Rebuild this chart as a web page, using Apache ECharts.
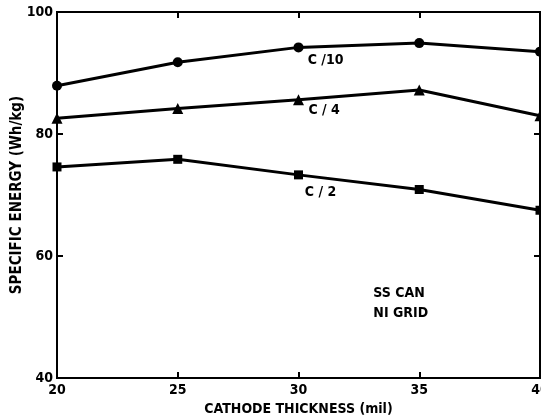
<!DOCTYPE html>
<html>
<head>
<meta charset="utf-8">
<script src="https://cdn.jsdelivr.net/npm/echarts@6/dist/echarts.min.js"></script>
<style>html,body{margin:0;padding:0;background:#fff}#c{width:541px;height:416px}</style>
</head>
<body>
<div id="c"></div>
<script>
var thickness = [20, 25, 30, 35, 40];
var c10 = [87.9, 91.75, 94.2, 94.9, 93.5];
var c4 = [82.6, 84.2, 85.6, 87.2, 83.0];
var c2 = [74.6, 75.85, 73.3, 70.9, 67.5];
var seriesNames = ['C /10', 'C / 4', 'C / 2'];
var xTicks = [20, 25, 30, 35, 40];
var yTicks = [40, 60, 80, 100];
var labelPos = [[31.12, 92.1], [31.06, 83.9], [30.91, 70.5]];
var notePos = [33.1, 52.3];
var noteText = 'SS CAN\nNI GRID';
var xTitle = 'CATHODE THICKNESS (mil)';
var yTitle = 'SPECIFIC ENERGY (Wh/kg)';

var FONT = 'DejaVu Sans Condensed';
function pairs(v){ return thickness.map(function(x,i){ return [x, v[i]]; }); }
var chart = echarts.init(document.getElementById('c'));
var symbols = ['circle', 'triangle', 'rect'];
var sizes = [10, 11, 9];
var vals = [c10, c4, c2];
var series = vals.map(function(v, k){
  return {
    type: 'line', name: seriesNames[k], data: pairs(v),
    symbol: symbols[k], symbolSize: sizes[k],
    lineStyle: {color: '#000', width: 3},
    itemStyle: {color: '#000'},
    clip: false, animation: false,
    markPoint: {
      symbol: 'circle', symbolSize: 0,
      data: [{coord: labelPos[k], value: seriesNames[k]}],
      label: {show: true, formatter: seriesNames[k], color: '#000', fontFamily: FONT, fontWeight: 'bold', fontSize: 14, position: 'inside'}
    }
  };
});
series.push({
  type: 'scatter', data: [], silent: true,
  markPoint: {
    symbol: 'circle', symbolSize: 0,
    data: [{coord: notePos, value: 1}],
    label: {show: true, formatter: noteText, color: '#000', fontFamily: FONT, fontWeight: 'bold', fontSize: 14, lineHeight: 20, align: 'left', position: 'inside'}
  }
});
var axisLbl = {color: '#000', fontFamily: FONT, fontWeight: 'bold', fontSize: 14};
chart.setOption({
  animation: false,
  grid: {left: 57, right: 1, top: 12, bottom: 38, show: true, borderColor: '#000', borderWidth: 2, containLabel: false, outerBoundsMode: 'none'},
  graphic: [{
    type: 'text', x: 17, y: 195, rotation: Math.PI / 2,
    style: {text: yTitle, fill: '#000', font: 'bold 15px "DejaVu Sans Condensed"', align: 'center', verticalAlign: 'middle'}
  }],
  xAxis: [{
    type: 'value', min: 20, max: 40, interval: 5,
    name: xTitle, nameLocation: 'middle', nameGap: 23,
    nameTextStyle: {color: '#000', fontFamily: FONT, fontWeight: 'bold', fontSize: 14},
    axisLine: {lineStyle: {color: '#000', width: 2}},
    axisTick: {inside: true, length: 6, lineStyle: {color: '#000', width: 2}},
    axisLabel: Object.assign({margin: 5, formatter: function(v){ return xTicks.indexOf(v) >= 0 ? String(v) : ''; }}, axisLbl),
    splitLine: {show: false}
  }, {
    type: 'value', position: 'top', min: 20, max: 40, interval: 5,
    axisLine: {show: false}, axisLabel: {show: false},
    axisTick: {inside: true, length: 6, lineStyle: {color: '#000', width: 2}},
    splitLine: {show: false}
  }],
  yAxis: [{
    type: 'value', min: 40, max: 100, interval: 20,
    axisLine: {lineStyle: {color: '#000', width: 2}},
    axisTick: {inside: true, length: 6, lineStyle: {color: '#000', width: 2}},
    axisLabel: Object.assign({margin: 4, formatter: function(v){ return yTicks.indexOf(v) >= 0 ? String(v) : ''; }}, axisLbl),
    splitLine: {show: false}
  }, {
    type: 'value', position: 'right', min: 40, max: 100, interval: 20,
    axisLine: {show: false}, axisLabel: {show: false},
    axisTick: {inside: true, length: 6, lineStyle: {color: '#000', width: 2}},
    splitLine: {show: false}
  }],
  series: series
});
</script>
</body>
</html>
